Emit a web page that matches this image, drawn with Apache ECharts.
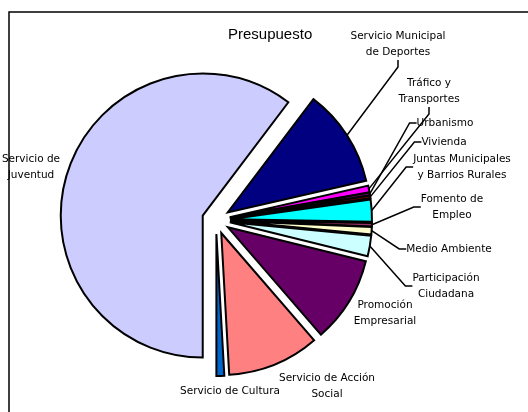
<!DOCTYPE html>
<html>
<head>
<meta charset="utf-8">
<script src="https://cdn.jsdelivr.net/npm/echarts@6/dist/echarts.min.js"></script>
<style>
  html, body { margin: 0; padding: 0; background: #fff; }
  #chart { width: 528px; height: 412px; }
</style>
</head>
<body>
<div id="chart"></div>
<script>
// slices, clockwise starting at 6 o'clock
const categories = [
  'Servicio de\nJuventud',
  'Servicio Municipal\nde Deportes',
  'Tráfico y\nTransportes',
  'Urbanismo',
  'Vivienda',
  'Juntas Municipales\ny Barrios Rurales',
  'Fomento de\nEmpleo',
  'Medio Ambiente',
  'Participación\nCiudadana',
  'Promoción\nEmpresarial',
  'Servicio de Acción\nSocial',
  'Servicio de Cultura'
]
const values = [60.17, 11.1, 0.75, 0.3, 0.3, 2.5, 0.39, 0.83, 2.33, 9.78, 10.44, 0.89]
const colors = ['#CCCCFF', '#000080', '#FF00FF', '#800080', '#800000', '#00FFFF',
  '#993366', '#FFFFCC', '#CCFFFF', '#660066', '#FF8080', '#0066CC']

// label centres (px)
const labelX = [31, 398, 429, 445, 444, 462, 452, 449, 446, 385, 327, 230]
const labelY = [167, 44, 91, 123, 142, 167, 207, 249, 286, 313, 386, 391]
const noLeader = ['Servicio de\nJuventud', 'Promoción\nEmpresarial', 'Servicio de Acción\nSocial', 'Servicio de Cultura']

const chart = echarts.init(document.getElementById('chart'))

const center = [216, 220]
const radius = 142
const explode = 14

const option = {
  animation: false,
  title: {
    text: 'Presupuesto',
    left: 228,
    top: 27,
    padding: 0,
    textStyle: {
      fontFamily: 'Liberation Sans',
      fontSize: 15,
      fontWeight: 'normal',
      color: '#000'
    }
  },
  graphic: [{
    type: 'rect',
    z: 100,
    shape: { x: 9, y: 12, width: 600, height: 500 },
    style: { fill: 'none', stroke: '#000', lineWidth: 1.5 }
  }],
  series: [{
    // exploded slices
    type: 'pie',
    z: 3,
    center: center,
    radius: radius,
    startAngle: 270,
    clockwise: true,
    selectedMode: 'multiple',
    selectedOffset: explode,
    emphasis: { disabled: true },
    itemStyle: {
      borderColor: '#000',
      borderWidth: 2,
      borderJoin: 'miter'
    },
    label: { show: false },
    labelLine: { show: false },
    data: categories.map(function (name, i) {
      return {
        name: name,
        value: values[i],
        selected: true,
        itemStyle: { color: colors[i] },
        select: { itemStyle: { color: colors[i], borderColor: '#000', borderWidth: 2 } }
      }
    })
  }, {
    // invisible copy carrying the labels and leader lines
    type: 'pie',
    z: 2,
    silent: true,
    center: center,
    radius: radius + explode,
    startAngle: 270,
    clockwise: true,
    avoidLabelOverlap: false,
    emphasis: { disabled: true },
    itemStyle: { color: 'rgba(0,0,0,0)', borderWidth: 0 },
    label: {
      show: true,
      position: 'outside',
      fontFamily: 'DejaVu Sans',
      fontSize: 10.5,
      lineHeight: 16,
      color: '#000',
      align: 'center'
    },
    labelLine: {
      show: true,
      length: 10,
      length2: 7,
      lineStyle: { color: '#000', width: 1.5 }
    },
    labelLayout: function (params) {
      const i = params.dataIndex
      return {
        x: labelX[i],
        y: labelY[i],
        align: 'center',
        verticalAlign: 'middle'
      }
    },
    data: categories.map(function (name, i) {
      return {
        name: name,
        value: values[i],
        labelLine: { show: noLeader.indexOf(name) < 0 }
      }
    })
  }]
}

chart.setOption(option)
</script>
</body>
</html>
